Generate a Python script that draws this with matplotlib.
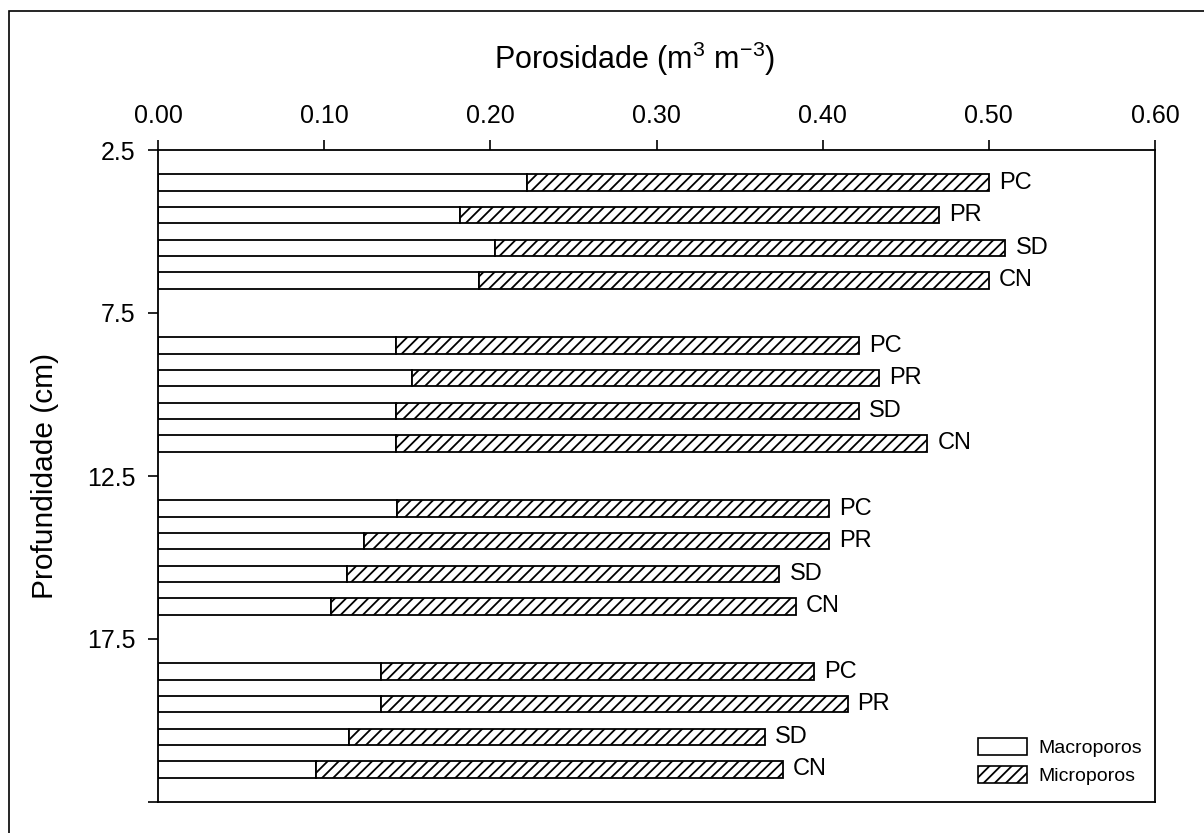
"""
Porosidade do solo (macro e microporos) por profundidade e sistema de manejo.
Barras horizontais empilhadas, eixo x no topo.
"""

import numpy as np
import matplotlib
matplotlib.use("Agg")
import matplotlib.pyplot as plt
from matplotlib.patches import Patch, Rectangle


# sistemas de manejo (de cima para baixo dentro de cada camada)
TREATMENTS = ["PC", "PR", "SD", "CN"]

# centro de cada camada no eixo de profundidade (cm)
LAYER_CENTERS = [5.0, 10.0, 15.0, 20.0]
DEPTH_TICKS = [2.5, 7.5, 12.5, 17.5, 22.5]
DEPTH_TICK_LABELS = ["2.5", "7.5", "12.5", "17.5", ""]
POROSITY_TICKS = [0.0, 0.1, 0.2, 0.3, 0.4, 0.5, 0.6]

# valores (m3 m-3), uma lista por camada
macro_0_5 = [0.222, 0.182, 0.203, 0.193]
macro_5_10 = [0.143, 0.153, 0.143, 0.143]
macro_10_15 = [0.144, 0.124, 0.114, 0.104]
macro_15_20 = [0.134, 0.134, 0.115, 0.095]

micro_0_5 = [0.278, 0.288, 0.307, 0.307]
micro_5_10 = [0.279, 0.281, 0.279, 0.320]
micro_10_15 = [0.260, 0.280, 0.260, 0.280]
micro_15_20 = [0.261, 0.281, 0.250, 0.281]

MACRO = [macro_0_5, macro_5_10, macro_10_15, macro_15_20]
MICRO = [micro_0_5, micro_5_10, micro_10_15, micro_15_20]

FONT = "Liberation Sans"
plt.rcParams["font.family"] = [FONT, "DejaVu Sans"]
plt.rcParams["mathtext.fontset"] = "custom"
plt.rcParams["mathtext.rm"] = FONT
plt.rcParams["mathtext.it"] = FONT
plt.rcParams["hatch.linewidth"] = 1.3

W, H = 1204, 833


def main():
    fig = plt.figure(figsize=(W / 100, H / 100), dpi=100)
    ax = fig.add_axes([158 / W, 1 - 802 / H, (1155 - 158) / W, (802 - 150) / H])

    offsets = np.array([-1.5, -0.5, 0.5, 1.5])
    for center, macro, micro in zip(LAYER_CENTERS, MACRO, MICRO):
        y = center + offsets
        ax.barh(y, macro, height=0.5, color="white", edgecolor="black",
                linewidth=1.3)
        ax.barh(y, micro, left=macro, height=0.5, color="white",
                edgecolor="black", linewidth=1.3, hatch="///")
        for yi, m, mi, name in zip(y, macro, micro, TREATMENTS):
            ax.text(m + mi + 0.006, yi, name, va="center", ha="left",
                    fontsize=17)

    ax.set_xlim(0, 0.6)
    ax.set_ylim(22.5, 2.5)
    ax.xaxis.tick_top()
    ax.xaxis.set_label_position("top")
    ax.set_xticks(POROSITY_TICKS)
    ax.set_xticklabels([f"{v:.2f}" for v in POROSITY_TICKS])
    ax.set_yticks(DEPTH_TICKS)
    ax.set_yticklabels(DEPTH_TICK_LABELS)
    ax.tick_params(axis="both", labelsize=18, length=7, width=1.2,
                   direction="out", pad=9)
    for spine in ax.spines.values():
        spine.set_linewidth(1.3)

    ax.set_xlabel("Porosidade (m$^3$ m$^{-3}$)", fontsize=22)
    ax.xaxis.set_label_coords(0.478, 1.125)
    ax.set_ylabel("Profundidade (cm)", fontsize=21.5, labelpad=20)

    handles = [
        Patch(facecolor="white", edgecolor="black", linewidth=1.2,
              label="Macroporos"),
        Patch(facecolor="white", edgecolor="black", linewidth=1.2,
              hatch="///", label="Microporos"),
    ]
    ax.legend(handles=handles, loc="lower left",
              bbox_to_anchor=((978 - 158) / 997, (802 - 785) / 652),
              frameon=False, fontsize=14, handlelength=2.5,
              handleheight=1.0, handletextpad=0.6, labelspacing=0.45,
              borderpad=0, borderaxespad=0)

    # moldura externa da figura original
    fig.patches.append(Rectangle((9 / W, -0.1), 1.2, 1 - 11 / H + 0.1,
                                 transform=fig.transFigure, fill=False,
                                 edgecolor="black", linewidth=1.2))

    fig.savefig("out.png", dpi=100)
    plt.close(fig)


if __name__ == "__main__":
    main()
